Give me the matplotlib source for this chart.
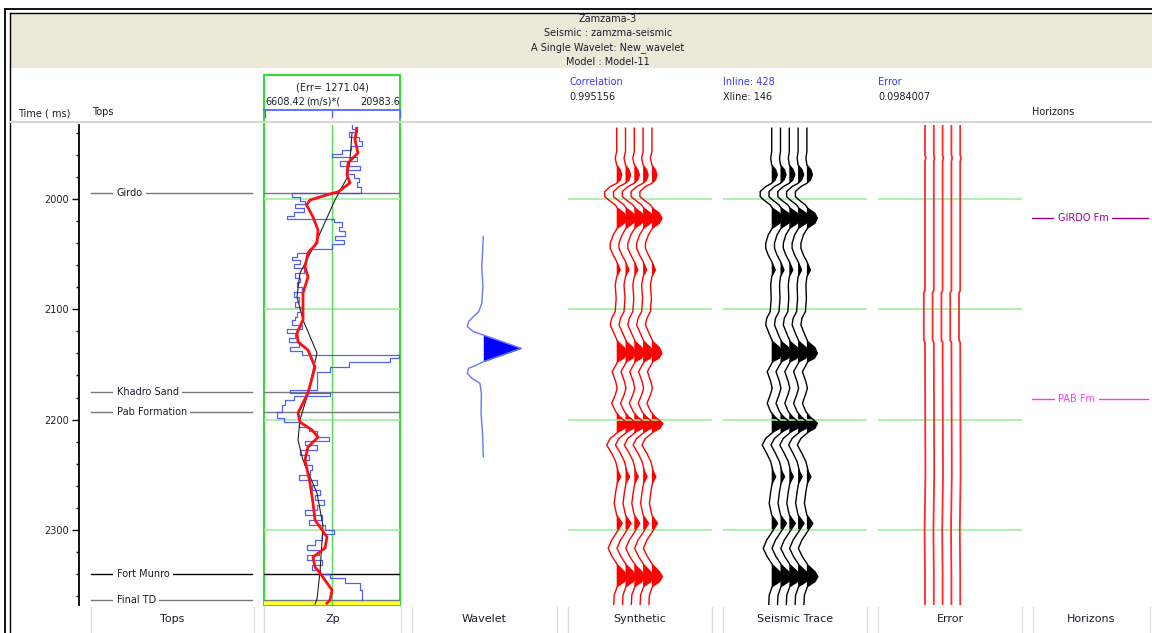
import numpy as np
import matplotlib
matplotlib.use('Agg')
import matplotlib.pyplot as plt
from matplotlib.patches import Rectangle
from matplotlib.ticker import MultipleLocator

plt.rcParams['font.family'] = ['DejaVu Sans']

W, H = 1152, 633
T_TOP, T_BOT = 1933.0, 2368.0

# panel header / stats
header_lines = ['Zamzama-3', 'Seismic : zamzma-seismic',
                'A Single Wavelet: New_wavelet', 'Model : Model-11']
correlation = 0.995156
inline_no, xline_no = 428, 146
error_value = 0.0984007
zp_err = 1271.04
zp_min, zp_max = 6608.42, 20983.6

# well tops
top_names = ['Girdo', 'Khadro Sand', 'Pab Formation', 'Fort Munro', 'Final TD']
top_times = [1995.0, 2175.3, 2192.8, 2340.3, 2363.5]

# horizons
hor_names = ['GIRDO Fm', 'PAB Fm']
hor_times = [2017.5, 2181.3]

# blocky Zp log: interval top time (ms) and value
zp_top = [1933.0, 1936.5, 1939.5, 1943.5, 1947.4, 1951.6, 1955.6, 1959.5, 1961.6, 1965.5,
          1969.8, 1973.7, 1977.6, 1981.3, 1984.9, 1988.8, 1994.9, 1997.9, 2001.8, 2004.8,
          2008.5, 2012.1, 2015.1, 2018.1, 2021.1, 2025.1, 2029.0, 2033.2, 2037.2, 2041.1,
          2045.3, 2049.2, 2052.3, 2055.3, 2059.2, 2062.8, 2067.4, 2071.3, 2074.9, 2079.5,
          2084.0, 2088.5, 2093.1, 2097.6, 2102.1, 2106.7, 2109.7, 2114.2, 2117.8, 2121.8,
          2126.3, 2129.9, 2133.9, 2137.8, 2141.4, 2144.4, 2148.1, 2152.0, 2156.5, 2173.1,
          2176.2, 2178.3, 2182.2, 2186.7, 2192.8, 2198.8, 2201.9, 2206.4, 2210.3, 2215.5,
          2219.4, 2223.0, 2227.5, 2232.1, 2236.6, 2241.1, 2245.7, 2250.2, 2254.7, 2259.3,
          2263.8, 2268.3, 2272.9, 2277.4, 2281.9, 2286.5, 2291.0, 2295.5, 2300.1, 2304.0,
          2309.1, 2313.7, 2318.2, 2322.7, 2327.3, 2331.8, 2336.3, 2340.3, 2343.9, 2348.4,
          2354.5]
zp_val = [15909, 16438, 15627, 16614, 16966, 15839, 14852, 13795, 16438, 14676,
          16790, 15380, 16085, 16614, 16438, 16896, 9568, 10448, 10977, 9920,
          10801, 9744, 9039, 13971, 14852, 14500, 15205, 14148, 15028, 13795,
          11329, 10096, 9568, 10448, 9744, 10801, 9920, 10448, 10096, 10625,
          9744, 10272, 9920, 10625, 10096, 9920, 9568, 10625, 9039, 9920,
          9215, 10272, 9392, 10625, 20841, 19961, 15557, 13619, 12210, 9392,
          13619, 9744, 8863, 8511, 7982, 8687, 10272, 11329, 12210, 13443,
          10977, 12210, 10448, 11329, 10801, 11682, 11505, 10272, 12210, 11682,
          12562, 12034, 12915, 12210, 10977, 12738, 11329, 13091, 13971, 12738,
          12034, 11153, 12386, 11153, 12738, 11682, 12562, 13619, 15205, 16790,
          16966]
zp_end = 2363.5

# inverted Zp (red)
inv_t = [1935.9, 1946.5, 1958.3, 1967.4, 1978.2, 1985.5, 1993.7, 1995.5, 2000.9, 2005.4,
         2016.3, 2028.1, 2039.9, 2049.0, 2061.6, 2070.7, 2085.2, 2109.7, 2121.5, 2129.6,
         2136.9, 2152.3, 2175.9, 2194.0, 2202.2, 2209.4, 2215.8, 2224.8, 2236.6, 2257.5,
         2275.6, 2291.0, 2306.4, 2316.4, 2324.6, 2333.6, 2339.1, 2354.5, 2363.5, 2366.3]
inv_zp = [16406, 16227, 16544, 15487, 15381, 15698, 14430, 13584, 11500, 11100,
          11787, 12316, 12210, 11259, 10942, 11259, 10730, 10730, 10096, 10202,
          11259, 11999, 11259, 10202, 10413, 11682, 12316, 11259, 10942, 11470,
          11787, 11999, 13267, 13056, 11787, 11999, 12527, 13796, 13584, 13267]

# initial model (black)
mod_t = [1940.2, 1964.6, 1981.0, 2000.9, 2037.2, 2067.1, 2088.8, 2109.7, 2139.6,
         2175.9, 2200.4, 2218.5, 2236.6, 2266.5, 2296.4, 2338.1, 2362.6, 2367.1]
mod_zp = [15910, 15698, 15381, 14113, 12210, 10413, 10096, 10730, 12210,
          11259, 10413, 10202, 10730, 12210, 12844, 12527, 12210, 11999]

# wavelet
wav_t = [2034.2, 2049.3, 2061.3, 2079.5, 2094.6, 2102.1, 2106.7, 2111.2, 2115.7, 2120.3,
         2123.3, 2135.4, 2147.5, 2150.5, 2153.5, 2158.1, 2162.6, 2167.1, 2176.2, 2194.3,
         2212.4, 2233.6]
wav_amp = [0.0, -0.02, -0.04, -0.01, -0.04, -0.12, -0.26, -0.39, -0.42, -0.26,
           0.0, 1.0, 0.0, -0.17, -0.39, -0.42, -0.30, -0.09, -0.05, -0.06,
           -0.02, 0.0]

# synthetic / seismic traces
trc_t = [1935.9, 1957.1, 1963.1, 1969.2, 1973.7, 1978.2, 1982.8, 1985.8, 1988.8, 1993.3,
         1997.9, 2000.9, 2005.4, 2008.5, 2013.0, 2017.5, 2022.0, 2026.6, 2032.6, 2040.2,
         2044.7, 2050.8, 2056.8, 2064.4, 2070.4, 2078.0, 2090.0, 2102.1, 2108.2, 2114.2,
         2123.3, 2129.3, 2134.8, 2139.9, 2144.4, 2147.5, 2156.5, 2165.6, 2171.6, 2177.7,
         2185.2, 2192.8, 2197.3, 2203.4, 2207.9, 2210.9, 2217.0, 2223.0, 2230.6, 2238.1,
         2247.2, 2251.7, 2257.8, 2265.3, 2275.9, 2286.5, 2294.0, 2301.6, 2309.1, 2316.7,
         2324.2, 2331.8, 2337.8, 2342.4, 2346.9, 2351.4, 2359.0, 2368.1]
syn_amp = [0, 0, -0.15, 0, 0.35, 0.5, 0.35, 0, -0.65, -1.2,
           -1.2, -0.8, -0.15, 0.1, 0.75, 1.0, 0.75, 0.05, -0.35, -0.65,
           -0.65, -0.35, 0, 0.35, 0, -0.15, -0.05, -0.15, -0.5, -0.65,
           -0.2, 0.1, 0.75, 1.0, 0.7, 0.1, -0.45, -0.1, 0.05, -0.15,
           -0.5, -0.1, 0.3, 1.1, 0.8, 0.2, -0.65, -1.0, -0.5, -0.1,
           0.15, 0.4, 0.05, -0.1, -0.25, 0.0, 0.55, 0.05, -0.5, -0.85,
           -0.45, 0.1, 0.75, 1.05, 0.75, 0.05, -0.25, -0.3]
sei_amp = [0, 0, -0.1, 0, 0.4, 0.55, 0.35, 0, -0.6, -1.15,
           -1.15, -0.8, -0.15, 0.1, 0.8, 1.05, 0.8, 0.05, -0.35, -0.6,
           -0.6, -0.35, 0, 0.35, 0, -0.1, -0.05, -0.15, -0.5, -0.6,
           -0.2, 0.1, 0.8, 1.05, 0.75, 0.1, -0.45, -0.1, 0.05, -0.15,
           -0.45, -0.1, 0.3, 1.05, 0.8, 0.2, -0.6, -0.95, -0.5, -0.1,
           0.15, 0.4, 0.05, -0.1, -0.25, 0.0, 0.6, 0.05, -0.5, -0.85,
           -0.45, 0.1, 0.8, 1.1, 0.8, 0.05, -0.25, -0.3]

# residual traces
err_t = [1933, 1960, 1963, 1966, 2056, 2083, 2085, 2128, 2130, 2250, 2300, 2340, 2368]
err_amp = [0, 0, 0.08, 0, 0, 0, -0.12, -0.12, 0, 0.04, -0.04, 0, 0]

track_cells = [(91, 254, 'Tops'), (264, 401, 'Zp'), (412, 557, 'Wavelet'),
               (568, 712, 'Synthetic'), (723, 867, 'Seismic Trace'),
               (878, 1022, 'Error'), (1033, 1150, 'Horizons')]

GRID = '#9cef9c'
BOX = '#33dd33'
TEXT = '#1e1e2e'
BLUE_TXT = '#3a3aff'


def box(x0, y0, x1, y1):
    return [x0 / W, 1 - y1 / H, (x1 - x0) / W, (y1 - y0) / H]


def track(fig, x0, x1, xlim):
    ax = fig.add_axes(box(x0, 125, x1, 605))
    ax.set_facecolor('none')
    ax.set_xlim(*xlim)
    ax.set_ylim(T_BOT, T_TOP)
    for s in ax.spines.values():
        s.set_visible(False)
    ax.set_xticks([])
    ax.set_yticks([])
    return ax


def wiggles(ax, t, amp, offsets, gain, color, fill=True, lw=1.0, fill_color=None):
    t = np.asarray(t, dtype=float)
    amp = np.asarray(amp, dtype=float)
    for off in offsets:
        x = off + gain * amp
        ax.plot(x, t, color=color, lw=lw)
        if fill:
            ax.fill_betweenx(t, off, x, where=amp > 0, interpolate=True,
                             color=fill_color or color, lw=0)


fig = plt.figure(figsize=(W / 100, H / 100), dpi=100)

# background: frame, header band, captions
bg = fig.add_axes([0, 0, 1, 1])
bg.set_xlim(0, W)
bg.set_ylim(H, 0)
bg.axis('off')
bg.add_patch(Rectangle((10, 14), W - 10, 54, facecolor='#ECE9D8', edgecolor='none'))
bg.plot([5, 5], [9, H], color='black', lw=1.3)
bg.plot([9.5, 9.5], [13, H], color='black', lw=1.0)
bg.plot([5, W], [9, 9], color='black', lw=1.3)
bg.plot([9.5, W], [13, 13], color='black', lw=1.0)
for i, line in enumerate(header_lines):
    bg.text(608, 19 + 14.3 * i, line, ha='center', va='center', fontsize=7, color=TEXT)

bg.plot([10, W], [122, 122], color='#d6d6d6', lw=1.5)
bg.text(18, 113, 'Time ( ms)', fontsize=7, va='center', color=TEXT)
bg.text(92, 112, 'Tops', fontsize=7, va='center', color=TEXT)
bg.text(569, 82, 'Correlation', fontsize=7, va='center', color=BLUE_TXT)
bg.text(569, 97, '%g' % correlation, fontsize=7, va='center', color=TEXT)
bg.text(723, 82, 'Inline: %d' % inline_no, fontsize=7, va='center', color=BLUE_TXT)
bg.text(723, 97, 'Xline: %d' % xline_no, fontsize=7, va='center', color=TEXT)
bg.text(878, 82, 'Error', fontsize=7, va='center', color=BLUE_TXT)
bg.text(878, 97, '%g' % error_value, fontsize=7, va='center', color=TEXT)
bg.text(1032, 112, 'Horizons', fontsize=7, va='center', color=TEXT)

# Zp header box and scale bar
bg.add_patch(Rectangle((264, 75), 136, 530, fill=False, edgecolor=BOX, lw=1.5))
bg.text(332, 88, '(Err= %.2f)' % zp_err, ha='center', va='center', fontsize=7, color=TEXT)
bg.text(265, 102, '%.2f' % zp_min, ha='left', va='center', fontsize=7, color=TEXT)
bg.text(323, 102, '(m/s)*(', ha='center', va='center', fontsize=7, color=TEXT)
bg.text(400, 102, '%.1f' % zp_max, ha='right', va='center', fontsize=7, color=TEXT)
bg.plot([264, 400], [110, 110], color='#5566ff', lw=1.3)
for xt in (264.5, 332, 399.5):
    bg.plot([xt, xt], [110, 117], color='#5566ff', lw=1.0)

# bottom caption cells
for x0, x1, label in track_cells:
    bg.plot([x0, x0], [607, H], color='#dddddd', lw=1.0)
    bg.plot([x1, x1], [607, H], color='#dddddd', lw=1.0)
    bg.text((x0 + x1) / 2, 619, label, ha='center', va='center', fontsize=8, color=TEXT)

# tops track, carrying the time axis
ax_tops = fig.add_axes(box(79, 125, 262, 605))
ax_tops.set_facecolor('none')
ax_tops.set_xlim(0, 1)
ax_tops.set_ylim(T_BOT, T_TOP)
for name in ('top', 'right', 'bottom'):
    ax_tops.spines[name].set_visible(False)
ax_tops.spines['left'].set_linewidth(1.3)
ax_tops.set_xticks([])
ax_tops.yaxis.set_major_locator(MultipleLocator(100))
ax_tops.yaxis.set_minor_locator(MultipleLocator(20))
ax_tops.tick_params(axis='y', which='major', length=5, width=1, labelsize=7, pad=2,
                    labelcolor=TEXT)
ax_tops.tick_params(axis='y', which='minor', length=2.5, width=1)
for name, t in zip(top_names, top_times):
    col = 'black' if name == 'Fort Munro' else '#7a7a7a'
    ax_tops.axhline(t, 0.066, 0.945, color=col, lw=1.0)
    ax_tops.text(0.205, t, name, fontsize=7, va='center', ha='left', color=TEXT,
                 bbox=dict(facecolor='white', edgecolor='none', pad=2.5))

# Zp track
ax_zp = track(fig, 264, 400, (zp_min, zp_max))
for g in (2000, 2100, 2200, 2300):
    ax_zp.axhline(g, color=GRID, lw=1.2)
ax_zp.axvline((zp_min + zp_max) / 2, color='#55e055', lw=1.0)
for name, t in zip(top_names, top_times):
    col = 'black' if name == 'Fort Munro' else '#7a7a7a'
    ax_zp.axhline(t, color=col, lw=1.0)
ax_zp.axhspan(2364.3, T_BOT, color='#ffff33', lw=0)
zp_bot = zp_top[1:] + [zp_end]
ax_zp.plot(np.repeat(zp_val, 2), np.column_stack([zp_top, zp_bot]).ravel(),
           color='#3344ff', lw=0.9, alpha=0.85)
ax_zp.plot(mod_zp, mod_t, color='#222222', lw=0.8)
ax_zp.plot(inv_zp, inv_t, color='#ff1010', lw=2.0)

# wavelet
ax_wav = track(fig, 412, 557, (0, 145))
wiggles(ax_wav, wav_t, wav_amp, [71.3], 38, '#6677ff', lw=1.0, fill_color='#0000ff')

# synthetic, seismic, error
trace_offsets = [48.7, 57.5, 66.3, 75.1, 83.9]
ax_syn = track(fig, 568, 712, (0, 144))
ax_sei = track(fig, 723, 867, (0, 144))
ax_err = track(fig, 878, 1022, (0, 144))
for ax in (ax_syn, ax_sei, ax_err):
    for g in (2000, 2100, 2200, 2300):
        ax.axhline(g, color=GRID, lw=1.2)
wiggles(ax_syn, trc_t, syn_amp, trace_offsets, 10, '#ff0000')
wiggles(ax_sei, trc_t, sei_amp, trace_offsets, 10, '#000000')
wiggles(ax_err, err_t, err_amp, [o - 1.7 for o in trace_offsets], 10, '#ff2a2a',
        fill=False, lw=1.3)

# horizons
ax_hor = track(fig, 1032, 1150, (0, 118))
hor_colors = ['#990099', '#ff33ff']
hor_label_x = [51, 45]
for name, t, col, lx in zip(hor_names, hor_times, hor_colors, hor_label_x):
    ax_hor.plot([0, 116], [t, t], color=col, lw=1.0)
    ax_hor.text(lx, t, name, fontsize=7, ha='center', va='center', color=col,
                bbox=dict(facecolor='white', edgecolor='none', pad=2.5))

fig.savefig('out.png', dpi=100)
